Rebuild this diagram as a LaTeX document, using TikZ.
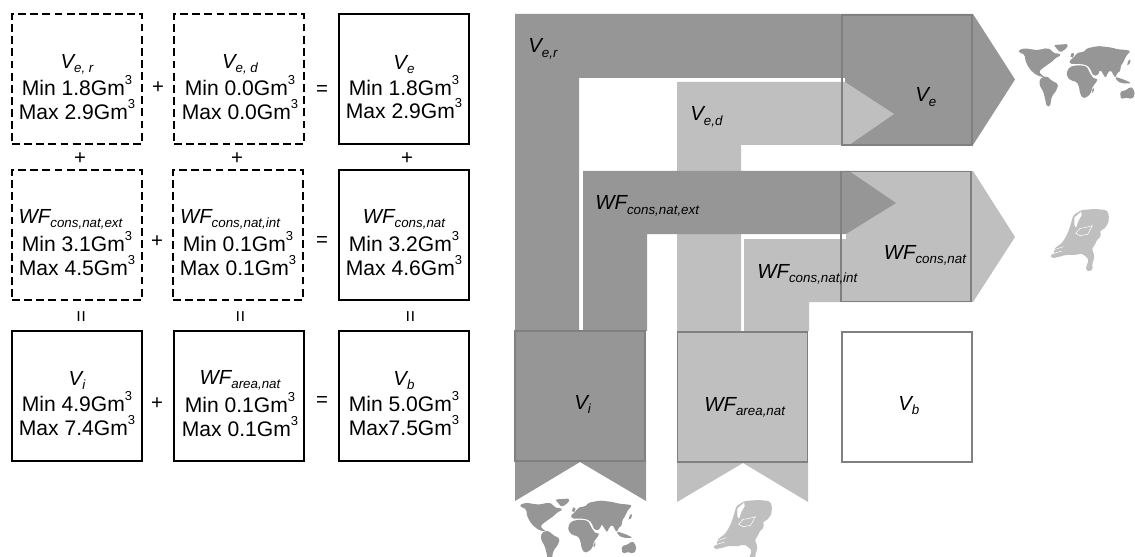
\documentclass[tikz,border=0pt]{standalone}
\usepackage{fontspec}
\setmainfont{Liberation Sans}
\usetikzlibrary{positioning}
\definecolor{flowdark}{HTML}{969696}
\definecolor{flowlight}{HTML}{BFBFBF}
\definecolor{flowline}{HTML}{808080}
\newcommand{\vname}[2]{{\fontsize{11.6}{13.5}\selectfont\itshape #1\raisebox{-0.2em}{\fontsize{7.6}{8}\selectfont\itshape #2}}}
\newcommand{\gmc}{Gm\raisebox{0.52em}{\fontsize{7.4}{8}\selectfont 3}}
\tikzset{
    valbox/.style={draw, line width=1.1pt, minimum size=2.6cm, outer sep=0pt},
    dashbox/.style={valbox, dash pattern=on 4.5pt off 2.4pt},
    flowbox/.style={draw=flowline, line width=1.1pt, minimum size=2.6cm, outer sep=0pt},
    valtext/.style={align=center, inner sep=0pt, font=\fontsize{12}{13.5}\selectfont},
    flowtext/.style={anchor=base west, inner sep=0pt},
    optext/.style={inner sep=0pt, font=\fontsize{11.6}{13.5}\selectfont},
    worldshape/.style={fill=flowdark, rounded corners=1pt},
    nlshape/.style={fill=flowlight, rounded corners=1pt},
    worldmap/.pic={
        \path[worldshape] (10,30) -- (30,25) -- (50,28) -- (65,30) -- (80,28) -- (95,24) -- (110,30) -- (115,40) -- (130,40) -- (140,45) -- (120,55) -- (112,65) -- (100,72) -- (90,80) -- (78,88) -- (72,95) -- (75,102) -- (85,107) -- (90,112) -- (80,110) -- (70,108) -- (55,98) -- (45,88) -- (35,72) -- (30,58) -- (30,45) -- (22,40) -- (12,38) -- cycle;
        \path[worldshape] (115,15) -- (160,12) -- (155,25) -- (135,38) -- (125,25) -- cycle;
        \path[worldshape] (75,115) -- (95,108) -- (110,122) -- (130,132) -- (125,150) -- (110,170) -- (105,200) -- (95,200) -- (90,175) -- (85,155) -- (73,135) -- cycle;
        \path[worldshape] (155,95) -- (165,80) -- (190,75) -- (215,79) -- (225,100) -- (238,118) -- (250,115) -- (240,132) -- (232,140) -- (228,160) -- (215,172) -- (203,175) -- (195,160) -- (192,140) -- (185,125) -- (168,122) -- (156,110) -- cycle;
        \path[worldshape] (165,72) -- (162,62) -- (175,55) -- (180,45) -- (195,35) -- (205,38) -- (215,25) -- (250,18) -- (285,22) -- (310,28) -- (335,30) -- (348,33) -- (335,45) -- (328,60) -- (322,72) -- (315,80) -- (318,92) -- (305,100) -- (302,115) -- (295,105) -- (288,90) -- (278,98) -- (272,115) -- (263,100) -- (255,88) -- (250,105) -- (235,108) -- (225,85) -- (218,77) -- (200,72) -- (185,72) -- cycle;
        \path[worldshape] (232,145) -- (238,143) -- (235,158) -- (230,158) -- cycle;
        \path[worldshape] (300,110) -- (330,120) -- (350,130) -- (320,130) -- (305,122) -- cycle;
        \path[worldshape] (315,155) -- (335,150) -- (345,140) -- (355,145) -- (360,165) -- (350,178) -- (335,172) -- (318,178) -- cycle;
        \path[worldshape] (165,45) -- (175,35) -- (178,50) -- (168,55) -- cycle;
        \path[worldshape] (345,55) -- (348,65) -- (338,78) -- (335,72) -- cycle;
    },
    nlmap/.pic={
        \path[nlshape] (85,30) -- (110,15) -- (150,12) -- (185,15) -- (192,30) -- (190,55) -- (175,75) -- (165,75) -- (168,95) -- (155,105) -- (150,120) -- (140,130) -- (148,150) -- (145,170) -- (140,178) -- (145,190) -- (135,200) -- (122,195) -- (125,180) -- (132,165) -- (118,150) -- (105,145) -- (95,150) -- (60,150) -- (45,155) -- (20,160) -- (15,150) -- (30,145) -- (25,135) -- (35,125) -- (50,115) -- (60,100) -- (70,80) -- (78,55) -- cycle;
        \fill[white] (88,38) -- (108,20) -- (110,30) -- (100,48) -- (93,68) -- (88,60) -- cycle;
        \draw[white, line width=0.3pt] (92,85) -- (105,70) -- (120,68) -- (142,62) -- (128,88) -- (105,92) -- cycle;
        \draw[white, line width=0.3pt] (25,135) -- (55,125) (20,147) -- (50,138);
    }
}
\begin{document}
\begin{tikzpicture}[x=0.02cm, y=-0.02cm]
    \clip (0,0) rectangle (1135,557);

    % flows
    \fill[flowdark] (515,331) -- (515,14) -- (973,14) -- (1015,79.5) -- (973,145) -- (845,145) -- (845,78) -- (579,78) -- (579,331) -- cycle;
    \fill[flowlight] (677,331) -- (677,82) -- (845,82) -- (894,114) -- (849,145) -- (741,145) -- (741,331) -- cycle;
    \fill[flowlight] (744,331) -- (744,239) -- (846,239) -- (846,171) -- (973,171) -- (1015,237) -- (973,302) -- (809,302) -- (809,331) -- cycle;
    \fill[flowdark] (583,331) -- (583,171) -- (849,171) -- (896,203) -- (846,234) -- (647,234) -- (647,331) -- cycle;
    \fill[flowdark] (515,460) -- (515,501) -- (580,462) -- (646,501) -- (646,460) -- cycle;
    \fill[flowlight] (677,461) -- (677,502) -- (743,463) -- (808,502) -- (808,461) -- cycle;

    % maps
    \pic[scale=1/3] at (1015,40) {worldmap};
    \pic[scale=1/3] at (516.5,494.5) {worldmap};
    \pic[scale=1/3] at (1045,205) {nlmap};
    \pic[scale=1/3] at (708,496) {nlmap};

    % Nodes, left
    \node[dashbox] (Ver) at (77,79) {};
    \node[dashbox] (Ved) at (239,79) {};
    \node[valbox] (Ve) at (404,79) {};
    \node[dashbox] (WFext) at (77,235) {};
    \node[dashbox] (WFint) at (238,235) {};
    \node[valbox] (WFcons) at (404,235) {};
    \node[valbox] (Vi) at (77,396) {};
    \node[valbox] (WFarea) at (239,396) {};
    \node[valbox] (Vb) at (404,396) {};

    \node[valtext] (VerText) at (77,87) {\vname{V}{e, r}\\Min 1.8\gmc\\Max 2.9\gmc};
    \node[valtext] (VedText) at (240,87) {\vname{V}{e, d}\\Min 0.0\gmc\\Max 0.0\gmc};
    \node[valtext] (VeText) at (404,87) {\vname{V}{e}\\Min 1.8\gmc\\Max 2.9\gmc};
    \node[valtext] (WFextText) at (77,242.5) {\vname{WF}{cons,nat,ext}\hspace*{0.26cm}\\Min 3.1\gmc\\Max 4.5\gmc};
    \node[valtext] (WFintText) at (238,242.5) {\vname{WF}{cons,nat,int}\hspace*{0.32cm}\\Min 0.1\gmc\\Max 0.1\gmc};
    \node[valtext] (WFconsText) at (404,242.5) {\vname{WF}{cons,nat}\\Min 3.2\gmc\\Max 4.6\gmc};
    \node[valtext] (ViText) at (77,403.5) {\vname{V}{i}\\Min 4.9\gmc\\Max 7.4\gmc};
    \node[valtext] (WFareaText) at (240,403.5) {\vname{WF}{area,nat}\\Min 0.1\gmc\\Max 0.1\gmc};
    \node[valtext] (VbText) at (404,403.5) {\vname{V}{b}\\Min 5.0\gmc\\Max7.5\gmc};

    % operators
    \node[optext] (plusA) at (158,88) {+};
    \node[optext] (plusB) at (157,242) {+};
    \node[optext] (plusC) at (157,404) {+};
    \node[optext] (eqA) at (322,91) {=};
    \node[optext] (eqB) at (322,242) {=};
    \node[optext] (eqC) at (322,402) {=};
    \node[optext] (plusD) at (80,159) {+};
    \node[optext] (plusE) at (237,159) {+};
    \node[optext] (plusF) at (407,159) {+};
    \node[optext, rotate=90] (eqD) at (83,317) {=};
    \node[optext, rotate=90] (eqE) at (242,317) {=};
    \node[optext, rotate=90] (eqF) at (412,317) {=};

    % Nodes, right
    \node[flowbox] (flowVe) at (907,80) {};
    \node[flowbox] (flowWFcons) at (906,236.5) {};
    \node[flowbox, fill=flowdark] (flowVi) at (580,396) {};
    \node[flowbox, fill=flowlight] (flowWFarea) at (742.5,397) {};
    \node[flowbox, fill=white] (flowVb) at (907,397) {};

    \node[flowtext] (lblVer) at (528,53) {\vname{V}{e,r}};
    \node[flowtext] (lblVed) at (690,121) {\vname{V}{e,d}};
    \node[flowtext] (lblVe) at (915,102) {\vname{V}{e}};
    \node[flowtext] (lblWFext) at (595,210) {\vname{WF}{cons,nat,ext}};
    \node[flowtext] (lblWFint) at (757,278) {\vname{WF}{cons,nat,int}};
    \node[flowtext] (lblWFcons) at (883.5,259) {\vname{WF}{cons,nat}};
    \node[flowtext] (lblVi) at (574,409) {\vname{V}{i}};
    \node[flowtext] (lblWFarea) at (704,411) {\vname{WF}{area,nat}};
    \node[flowtext] (lblVb) at (898,410) {\vname{V}{b}};
\end{tikzpicture}
\end{document}
